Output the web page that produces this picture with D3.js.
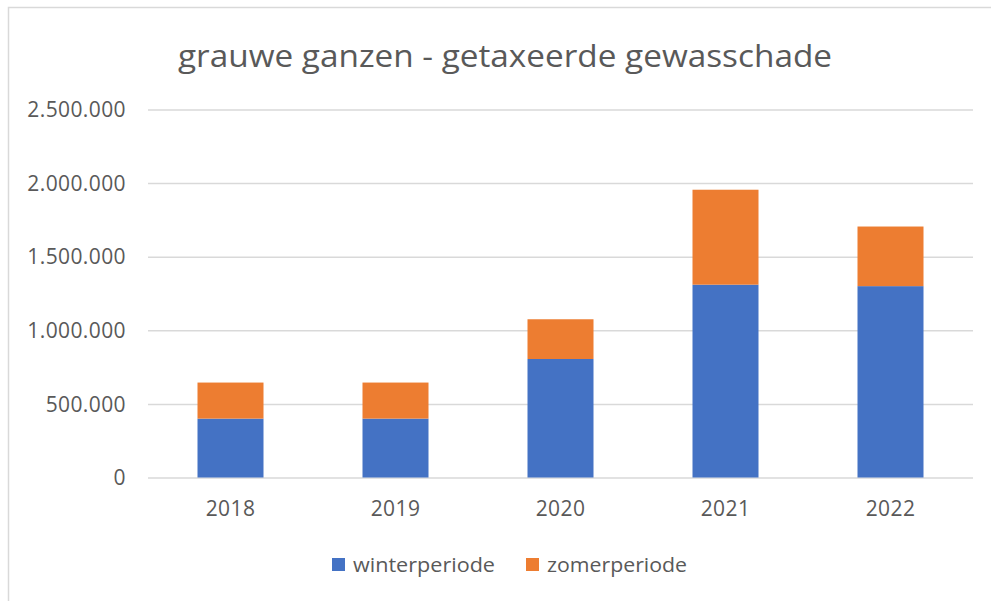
<!DOCTYPE html>
<html lang="nl">
<head>
    <meta charset="UTF-8" />
    <title>grauwe ganzen - getaxeerde gewasschade</title>
    <script src="https://d3js.org/d3.v7.min.js"></script>
    <style>
        body {
            margin: 0;
            background: #fff;
        }
        svg {
            display: block;
            font-family: "Open Sans", sans-serif;
        }
    </style>
</head>
<body>
    <svg id="chart" width="991" height="601"></svg>

    <script>
        // data
        const years = ["2018", "2019", "2020", "2021", "2022"];
        const winter = [400000, 400000, 805000, 1310000, 1300000];
        const zomer = [245000, 245000, 270000, 645000, 405000];
        const seriesNames = ["winterperiode", "zomerperiode"];
        const seriesColors = ["#4472C4", "#ED7D31"];
        const yTicks = [0, 500000, 1000000, 1500000, 2000000, 2500000];

        const svg = d3.select("#chart");

        // chart frame (runs off the right and bottom of the window)
        svg.append("rect")
            .attr("x", 8.5)
            .attr("y", 7.5)
            .attr("width", 1000)
            .attr("height", 620)
            .attr("fill", "#fff")
            .attr("stroke", "#d9d9d9")
            .attr("stroke-width", 1.5);

        // title
        svg.append("text")
            .attr("x", 505)
            .attr("y", 67)
            .attr("text-anchor", "middle")
            .attr("font-size", 31)
            .attr("fill", "#595959")
            .attr("textLength", 654)
            .attr("lengthAdjust", "spacingAndGlyphs")
            .text("grauwe ganzen - getaxeerde gewasschade");

        const margin = { left: 148, right: 973, top: 109.5, bottom: 477.5 };

        const x = d3.scaleBand()
            .domain(years)
            .range([margin.left, margin.right])
            .paddingInner(0.6)
            .paddingOuter(0.3);

        const y = d3.scaleLinear()
            .domain([0, 2500000])
            .range([margin.bottom, margin.top]);

        const fmt = d => d3.format(",")(d).replace(/,/g, ".");

        // gridlines + y labels
        const yAxis = svg.append("g")
            .attr("transform", `translate(${margin.left},0)`)
            .call(d3.axisLeft(y)
                .tickValues(yTicks)
                .tickSize(-(margin.right - margin.left))
                .tickPadding(22)
                .tickFormat(fmt));
        yAxis.select(".domain").remove();
        yAxis.selectAll(".tick line")
            .attr("stroke", "#d9d9d9")
            .attr("stroke-width", 1.5);
        yAxis.selectAll(".tick text")
            .attr("fill", "#595959")
            .attr("font-size", 21)
            .attr("font-family", "Open Sans, sans-serif")
            .attr("letter-spacing", 0.4)
            .attr("dy", "0.34em");

        // stacked bars
        const rows = years.map((yr, i) => ({ year: yr, winterperiode: winter[i], zomerperiode: zomer[i] }));
        const stack = d3.stack().keys(seriesNames)(rows);

        svg.append("g")
            .selectAll("g")
            .data(stack)
            .join("g")
            .attr("fill", (d, i) => seriesColors[i])
            .selectAll("rect")
            .data(d => d)
            .join("rect")
            .attr("x", d => x(d.data.year))
            .attr("y", d => y(d[1]))
            .attr("width", x.bandwidth())
            .attr("height", d => y(d[0]) - y(d[1]));

        // x labels
        const xAxis = svg.append("g")
            .attr("transform", `translate(0,${margin.bottom})`)
            .call(d3.axisBottom(x).tickSize(0).tickPadding(24));
        xAxis.select(".domain").remove();
        xAxis.selectAll(".tick text")
            .attr("fill", "#595959")
            .attr("font-size", 21)
            .attr("font-family", "Open Sans, sans-serif")
            .attr("letter-spacing", 0.4);

        // legend
        const legendX = [332, 526];
        const legendW = [142, 140];
        const legend = svg.append("g")
            .selectAll("g")
            .data(seriesNames)
            .join("g")
            .attr("transform", (d, i) => `translate(${legendX[i]},558)`);

        legend.append("rect")
            .attr("width", 13)
            .attr("height", 13)
            .attr("fill", (d, i) => seriesColors[i]);

        legend.append("text")
            .attr("x", 21)
            .attr("y", 13.5)
            .attr("font-size", 20)
            .attr("fill", "#595959")
            .attr("textLength", (d, i) => legendW[i])
            .attr("lengthAdjust", "spacingAndGlyphs")
            .text(d => d);
    </script>
</body>
</html>
